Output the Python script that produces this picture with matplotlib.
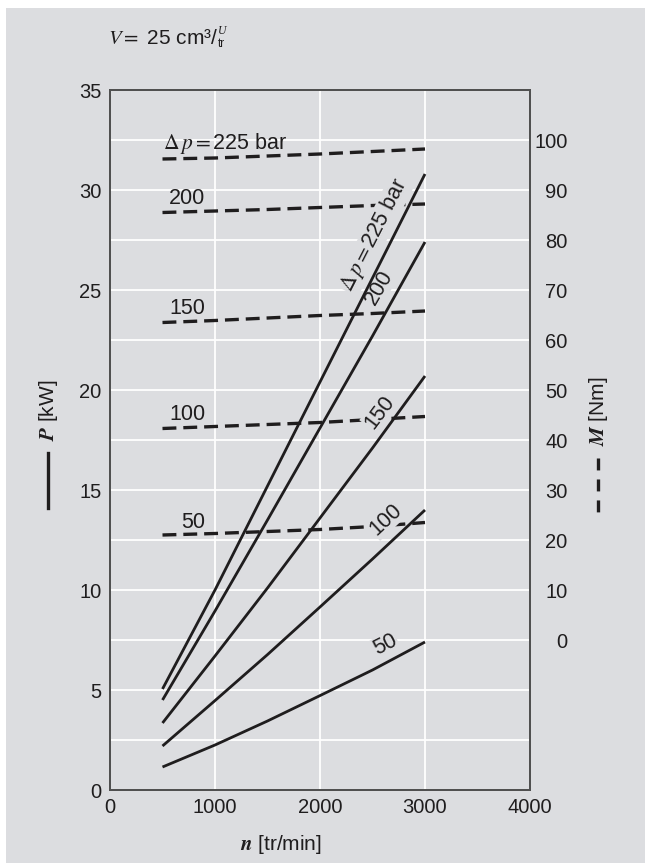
import numpy as np
import matplotlib.pyplot as plt
from matplotlib.lines import Line2D
from matplotlib.patches import Rectangle

plt.rcParams['font.family'] = ['Liberation Sans', 'DejaVu Sans']
plt.rcParams['mathtext.fontset'] = 'stix'
plt.rcParams['lines.scale_dashes'] = False

# Drehzahl n [tr/min]
n = [500, 1000, 1500, 2000, 2500, 3000]
dp_labels = ['225', '200', '150', '100', '50']

# Leistung P [kW] (durchgezogen)
P_225 = [5.05, 10.0, 15.2, 20.4, 25.6, 30.8]
P_200 = [4.50, 8.95, 13.5, 18.1, 22.7, 27.4]
P_150 = [3.35, 6.70, 10.1, 13.6, 17.1, 20.7]
P_100 = [2.20, 4.47, 6.77, 9.15, 11.55, 14.0]
P_50 = [1.15, 2.25, 3.45, 4.72, 6.00, 7.40]

# Drehmoment M [Nm] (gestrichelt)
M_225 = [96.2, 96.4, 96.8, 97.2, 97.7, 98.2]
M_200 = [85.5, 85.8, 86.1, 86.5, 86.9, 87.2]
M_150 = [63.5, 63.9, 64.4, 64.9, 65.3, 65.8]
M_100 = [42.3, 42.7, 43.1, 43.5, 44.1, 44.7]
M_50 = [21.0, 21.3, 21.7, 22.1, 22.7, 23.5]

bg = '#dcdde0'
ink = '#1f1d1e'
W, H = 645, 868

fig = plt.figure(figsize=(6.45, 8.68), dpi=100, facecolor='white')
fig.patches.append(Rectangle((6 / W, 5 / H), 1 - 6 / W, 1 - 13 / H,
                             transform=fig.transFigure, facecolor=bg,
                             edgecolor='none', zorder=-5))

ax = fig.add_axes([110 / W, 78 / H, 420 / W, 700 / H])
ax.set_facecolor(bg)
ax2 = ax.twinx()

# M-Kurven (rechte Achse)
for M in (M_225, M_200, M_150, M_100, M_50):
    ax2.plot(n, M, color=ink, lw=2.4, dashes=(10, 5), zorder=2)

# P-Kurven (linke Achse, über den Strichlinien gezeichnet)
for P in (P_225, P_200, P_150, P_100, P_50):
    ax2.plot(n, P, color=ink, lw=2.0, solid_capstyle='butt',
             transform=ax.transData, zorder=4)

ax.set_xlim(0, 4000)
ax.set_ylim(0, 35)
ax2.set_ylim(-30, 110)
ax.set_xticks(range(0, 4001, 1000))
ax.set_yticks(range(0, 36, 5))
ax.set_yticks(np.arange(2.5, 35, 5), minor=True)
ax.tick_params(which='both', length=0, labelsize=14.5, colors=ink)
ax.tick_params(axis='y', pad=6)
ax.tick_params(axis='x', pad=6)
ax.grid(True, which='both', color='white', lw=1.3)
ax.set_axisbelow(True)

ax2.set_yticks(range(0, 101, 10))
ax2.tick_params(length=0, labelsize=14.5, colors=ink, pad=27)
for t in ax2.get_yticklabels():
    t.set_horizontalalignment('right')

for a in (ax, ax2):
    for s in a.spines.values():
        s.set_color('#505050')
        s.set_linewidth(1.4)

fs = 15.5
# Beschriftung M-Kurven
ax.text(505, 32.3, r'$\Delta\,p=$225 bar', fontsize=fs, color=ink,
        ha='left', va='center')
for lab, y in zip(dp_labels[1:], [29.55, 24.1, 18.75, 13.4]):
    ax.text(905, y, lab, fontsize=fs, color=ink, ha='right', va='center')

# Beschriftung P-Kurven (unterbrechen die Strichlinien)
rot_lab = [r'$\Delta\,p=$225 bar', '200', '150', '100', '50']
rot_x = [2520, 2565, 2565, 2630, 2625]
rot_y = [27.75, 25.1, 18.9, 13.5, 7.25]
rot_a = [63, 60, 53, 43, 27]
for lab, x, y, a in zip(rot_lab, rot_x, rot_y, rot_a):
    ax2.text(x, y, lab, fontsize=fs, color=ink, rotation=a,
             rotation_mode='anchor', ha='center', va='center',
             transform=ax.transData, zorder=3,
             bbox=dict(facecolor=bg, edgecolor='none', pad=0.5))

# Titel
fig.text(108 / W, 1 - 39 / H, r'$V=$ 25 cm³/', fontsize=15,
         color=ink, ha='left', va='center')
fig.text(218 / W, 1 - 31 / H, 'U', fontsize=8.5, color=ink,
         family='Liberation Serif', style='italic', ha='left', va='center')
fig.text(218 / W, 1 - 44 / H, 'tr', fontsize=8.5, color=ink,
         ha='left', va='center')

# Achsentitel
fig.text(48 / W, 1 - 410 / H, r'$\mathbfit{P}$ [kW]', fontsize=15,
         color=ink, rotation=90, ha='center', va='center')
fig.add_artist(Line2D([48 / W, 48 / W], [1 - 453 / H, 1 - 508 / H],
                      transform=fig.transFigure, color=ink, lw=2.4))
fig.text(598 / W, 1 - 411 / H, r'$\mathbfit{M}$ [Nm]', fontsize=15,
         color=ink, rotation=90, ha='center', va='center')
fig.add_artist(Line2D([598 / W, 598 / W], [1 - 458 / H, 1 - 514 / H],
                      transform=fig.transFigure, color=ink, lw=2.4,
                      dashes=(8.6, 6.5)))
fig.text(281 / W, 1 - 845 / H, r'$\mathbfit{n}$ [tr/min]', fontsize=15,
         color=ink, ha='center', va='center')

fig.savefig('out.png', dpi=100, facecolor='white')
